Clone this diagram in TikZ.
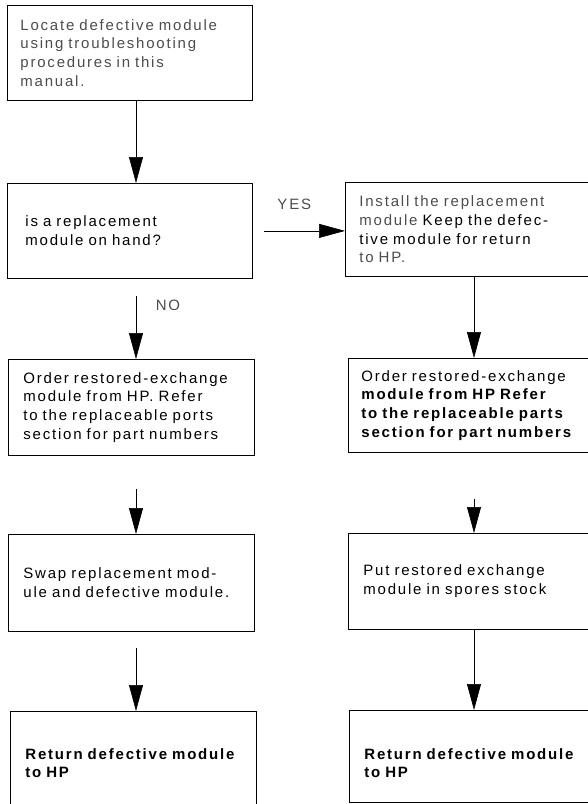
\documentclass[tikz,border=0pt]{standalone}
\usepackage{fontspec}
\setmainfont{Liberation Sans}[LetterSpace=12]
\usetikzlibrary{positioning, arrows.meta, calc}
\newcommand{\widewords}{\spaceskip 8pt plus 1pt\relax}

\begin{document}
\begin{tikzpicture}[x=1pt, y=-1pt, >={Triangle[length=26pt, width=14pt]},
    box/.style={draw, line width=0.8pt, anchor=north west, inner ysep=0pt,
                align=left, font=\fontsize{15}{18.8}\selectfont\widewords},
    faint/.style={text=black!70},
    arr/.style={->, line width=0.6pt},
    lbl/.style={font=\fontsize{15}{18}\selectfont, text=black!70}]
    \useasboundingbox (0,0) rectangle (587,804);
    % left column
    \node[box, faint, minimum width=245pt, minimum height=95pt, inner xsep=13pt, text width=219pt]
        (locate) at (7,5) {Locate defective module\\ using troubleshooting\\ procedures in this\\ manual.};
    \node[box, minimum width=245pt, minimum height=95pt, inner xsep=18pt, text width=209pt]
        (onhand) at (7,183) {is a replacement\\ module on hand?};
    \node[box, minimum width=246pt, minimum height=96pt, inner xsep=15pt, text width=216pt]
        (orderl) at (8,359) {Order restored-exchange\\ module from HP. Refer\\ to the replaceable ports\\ section~for~part~numbers};
    \node[box, minimum width=246pt, minimum height=97pt, inner xsep=15pt, text width=216pt]
        (swap) at (8,534) {Swap replacement mod-\\ ule~and~defective~module.};
    \node[box, minimum width=246pt, minimum height=104pt, inner xsep=15pt, text width=216pt,
          font=\fontsize{15}{18}\bfseries\widewords]
        (returnl) at (10,711) {Return~defective~module\\ to HP};
    % right column
    \node[box, minimum width=255pt, minimum height=94pt, inner xsep=14pt, text width=227pt]
        (install) at (345,182) {{\color{black!70}Install the replacement}\\ {\color{black!70}module} Keep the defec-\\ tive module for return\\ {\color{black!70}to HP.}};
    \node[box, minimum width=252pt, minimum height=94pt, inner xsep=13pt, text width=226pt]
        (orderr) at (348,358) {Order restored-exchange\\ \textbf{module from HP Refer}\\ \textbf{to the replaceable parts}\\ \textbf{section~for~part~numbers}};
    \node[box, minimum width=252pt, minimum height=96pt, inner xsep=15pt, text width=222pt]
        (stock) at (348,533) {Put restored exchange\\ module in spores stock};
    \node[box, minimum width=251pt, minimum height=92pt, inner xsep=15pt, text width=221pt,
          font=\fontsize{15}{18}\bfseries\widewords]
        (returnr) at (349,710) {\rule{0pt}{24pt}Return~defective~module\\ to HP};
    % connectors
    \coordinate (lcol) at (136,0);
    \coordinate (rcol) at (474,0);
    \draw[arr] (locate.south -| lcol) -- (onhand.north -| lcol);
    \draw[arr, shorten <=11pt] (onhand.east) -- node[lbl, pos=0.45, yshift=27pt] {YES} (install.west |- onhand.east);
    \draw[arr, shorten <=17pt] (onhand.south -| lcol) -- node[lbl, pos=0.33, xshift=32pt] {NO} (orderl.north -| lcol);
    \draw[arr] (install.south -| rcol) -- (orderr.north -| rcol);
    \draw[arr, shorten <=33pt] (orderl.south -| lcol) -- (swap.north -| lcol);
    \draw[arr, shorten <=46pt] (orderr.south -| rcol) -- (stock.north -| rcol);
    \draw[arr, shorten <=16pt] (swap.south -| lcol) -- (returnl.north -| lcol);
    \draw[arr] (stock.south -| rcol) -- (returnr.north -| rcol);
\end{tikzpicture}
\end{document}
